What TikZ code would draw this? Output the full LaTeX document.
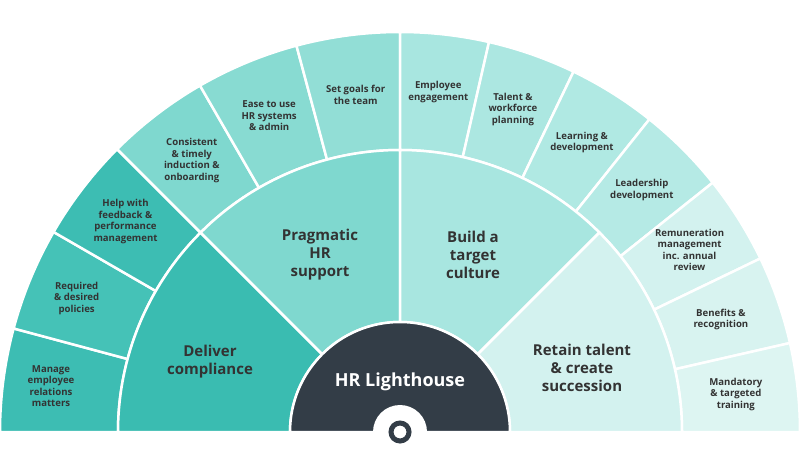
\documentclass[tikz,border=0pt]{standalone}
\usepackage{fontspec}
\setmainfont{Open Sans}
\begin{document}
\begin{tikzpicture}[x=1pt,y=1pt,
  outlbl/.style={font=\fontsize{9.6}{11.5}\selectfont\bfseries, text=black!80, align=center},
  midlbl/.style={font=\fontsize{15}{18}\selectfont\bfseries, text=black!80, align=center},
  seg/.style={draw=white, line width=2.5pt}]
\useasboundingbox (0,0) rectangle (800,450);
\coordinate (c) at (400,18);
% outer ring left (15 deg each)
\foreach \a/\col in {165/3DBDB3,150/45C2B7,135/3DBDB3,120/7FD8CF,105/88DBD2,90/92DED6}{
  \definecolor{tmp}{HTML}{\col}
  \fill[tmp,seg] ([shift={(\a:282)}]c) arc(\a:\a+15:282) -- ([shift={(\a+15:400)}]c) arc(\a+15:\a:400) -- cycle;
}
% outer ring right (90/7 deg each)
\foreach \i/\col in {0/A8E6E0,1/ACE7E1,2/B0E9E3,3/B5EAE5,4/D3F2EF,5/D8F3F0,6/DDF5F2}{
  \definecolor{tmp}{HTML}{\col}
  \pgfmathsetmacro\a{90-(\i+1)*90/7}
  \pgfmathsetmacro\b{90-\i*90/7}
  \fill[tmp,seg] ([shift={(\a:282)}]c) arc(\a:\b:282) -- ([shift={(\b:400)}]c) arc(\b:\a:400) -- cycle;
}
% middle ring
\foreach \a/\col in {135/3ABCB1,90/7FD8CF,45/A8E6E0,0/D3F2EF}{
  \definecolor{tmp}{HTML}{\col}
  \fill[tmp,seg] ([shift={(\a:110)}]c) arc(\a:\a+45:110) -- ([shift={(\a+45:282)}]c) arc(\a+45:\a:282) -- cycle;
}
\fill[fill={rgb,255:red,51;green,61;blue,71}, draw=white, line width=2.5pt] (c) ++(0:110) arc(0:180:110) -- cycle;
\node[font=\fontsize{18}{21}\selectfont\bfseries, text=white] (hr) at (400,68) {HR Lighthouse};
\fill[white] (c) circle (27);
\draw[fill=white, draw={rgb,255:red,51;green,61;blue,71}, line width=5pt] (c) circle (9);
% middle labels
\node[midlbl] (m1) at (210,88) {Deliver\\compliance};
\node[midlbl] (m2) at (320,195) {Pragmatic\\HR\\support};
\node[midlbl] (m3) at (473,195) {Build a\\target\\culture};
\node[midlbl] (m4) at (582,82) {Retain talent\\\& create\\succession};
% outer labels left
\node[outlbl] (o1) at ([shift={(172.5:352)}]c) {Manage\\employee\\relations\\matters};
\node[outlbl] (o2) at ([shift={(157.5:350)}]c) {Required\\\& desired\\policies};
\node[outlbl] (o3) at ([shift={(142.5:346)}]c) {Help with\\feedback \&\\performance\\management};
\node[outlbl] (o4) at ([shift={(127.5:342)}]c) {Consistent\\\& timely\\induction \&\\onboarding};
\node[outlbl] (o5) at ([shift={(112.5:342)}]c) {Ease to use\\HR systems\\\& admin};
\node[outlbl] (o6) at ([shift={(97.5:340)}]c) {Set goals for\\the team};
% outer labels right
\pgfmathsetmacro\s{90/7}
\node[outlbl] (p1) at ([shift={(90-0.5*\s:342)}]c) {Employee\\engagement};
\node[outlbl] (p2) at ([shift={(90-1.5*\s:342)}]c) {Talent \&\\workforce\\planning};
\node[outlbl] (p3) at ([shift={(90-2.5*\s:342)}]c) {Learning \&\\development};
\node[outlbl] (p4) at ([shift={(90-3.5*\s:342)}]c) {Leadership\\development};
\node[outlbl] (p5) at ([shift={(90-4.5*\s:342)}]c) {Remuneration\\management\\inc. annual\\review};
\node[outlbl] (p6) at ([shift={(90-5.5*\s:340)}]c) {Benefits \&\\recognition};
\node[outlbl] (p7) at ([shift={(90-6.5*\s:338)}]c) {Mandatory\\\& targeted\\training};
\end{tikzpicture}
\end{document}
